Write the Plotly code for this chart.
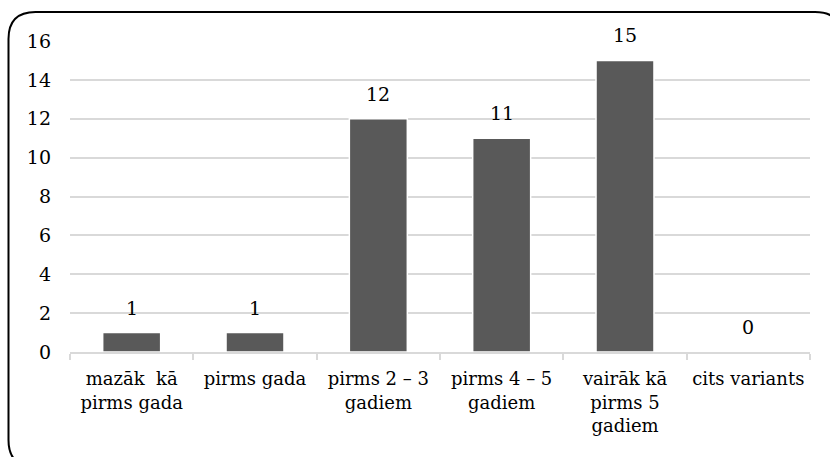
import plotly.graph_objects as go

categories = [
    "mazāk  kā<br>pirms gada",
    "pirms gada",
    "pirms 2 – 3<br>gadiem",
    "pirms 4 – 5<br>gadiem",
    "vairāk kā<br>pirms 5<br>gadiem",
    "cits variants",
]
counts = [1, 1, 12, 11, 15, 0]
y_ticks = [0, 2, 4, 6, 8, 10, 12, 14, 16]

W, H = 830, 457
ML, MR, MT, MB = 70, 20, 41, 105
PW, PH = W - ML - MR, H - MT - MB

SERIF = "DejaVu Serif"


def px_to_paper(x, y):
    return (x - ML) / PW, (H - MB - y) / PH


def rounded_rect_path(x0, y0, x1, y1, r):
    def P(x, y):
        px, py = px_to_paper(x, y)
        return f"{px:.5f},{py:.5f}"

    parts = [
        f"M {P(x0 + r, y0)}",
        f"L {P(x1 - r, y0)}",
        f"Q {P(x1, y0)} {P(x1, y0 + r)}",
        f"L {P(x1, y1 - r)}",
        f"Q {P(x1, y1)} {P(x1 - r, y1)}",
        f"L {P(x0 + r, y1)}",
        f"Q {P(x0, y1)} {P(x0, y1 - r)}",
        f"L {P(x0, y0 + r)}",
        f"Q {P(x0, y0)} {P(x0 + r, y0)}",
        "Z",
    ]
    return " ".join(parts)


fig = go.Figure()
fig.add_trace(go.Bar(
    x=categories,
    y=counts,
    marker=dict(color="#595959", line=dict(color="#ffffff", width=1.5)),
    hoverinfo="x+y",
))

# value labels above the bars
for c, v in zip(categories, counts):
    fig.add_annotation(
        x=c, y=v, text=str(v), showarrow=False,
        yanchor="bottom", yshift=12,
        font=dict(family=SERIF, size=19, color="black"),
    )

# rounded frame around the whole chart
fig.add_shape(
    type="path",
    path=rounded_rect_path(8.5, 12, 842, 467, 27),
    xref="paper", yref="paper",
    line=dict(color="#000000", width=2),
    fillcolor="rgba(0,0,0,0)",
    layer="above",
)

fig.update_layout(
    width=W, height=H,
    margin=dict(l=ML, r=MR, t=MT, b=MB, pad=0),
    paper_bgcolor="#ffffff",
    plot_bgcolor="#ffffff",
    bargap=0.53,
    showlegend=False,
)
fig.update_xaxes(
    type="category",
    showline=True, linecolor="#d9d9d9", linewidth=1.5,
    ticks="outside", tickson="boundaries", ticklen=6, tickcolor="#d9d9d9", tickwidth=1.5,
    showgrid=False,
    tickangle=0,
    tickfont=dict(family=SERIF, size=18, color="black"),
    ticklabelstandoff=10,
)
fig.update_yaxes(
    range=[0, 16],
    tickvals=y_ticks,
    showgrid=True, gridcolor="#d9d9d9", gridwidth=1.5,
    zeroline=False,
    showline=False,
    ticks="",
    tickfont=dict(family=SERIF, size=19, color="black"),
    ticklabelstandoff=18,
)

fig.write_html("out.html")
